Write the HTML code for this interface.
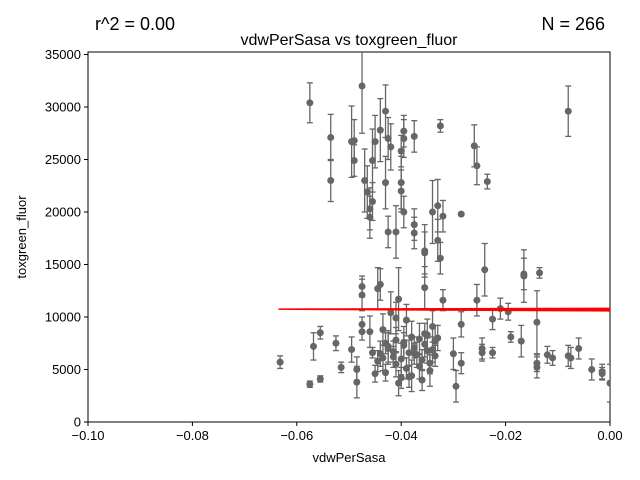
<!DOCTYPE html>
<html><head><meta charset="utf-8"><style>
body{margin:0;background:#fff;}
svg{display:block;font-family:"Liberation Sans","DejaVu Sans",sans-serif;}
</style></head><body>
<svg id="chart" width="640" height="480">
<defs><clipPath id="plotclip"><rect x="88" y="52" width="522" height="370"/></clipPath></defs>
<text x="95" y="30" font-size="18">r^2 = 0.00</text>
<text x="605" y="30" font-size="18" text-anchor="end">N = 266</text>
<text x="349" y="45" font-size="16" text-anchor="middle">vdwPerSasa vs toxgreen_fluor</text>
<text x="349" y="462" font-size="13" text-anchor="middle">vdwPerSasa</text>
<text x="26" y="237" font-size="13" text-anchor="middle" transform="rotate(-90 26 237)">toxgreen_fluor</text>
<g id="axes"></g>
<g id="marks" clip-path="url(#plotclip)"></g>
</svg>
<script>
const xTicks=[-0.1,-0.08,-0.06,-0.04,-0.02,0];
const xTickLabels=["\u22120.10","\u22120.08","\u22120.06","\u22120.04","\u22120.02","0.00"];
const yTicks=[0,5000,10000,15000,20000,25000,30000,35000];
const xs=[-0.0575,-0.0535,-0.0535,-0.0495,-0.049,-0.049,-0.0475,-0.047,-0.0465,-0.046,-0.0455,-0.045,-0.046,-0.0455,-0.044,-0.043,-0.0425,-0.042,-0.043,-0.0425,-0.041,-0.040,-0.0395,-0.0395,-0.040,-0.040,-0.0395,-0.0375,-0.0375,-0.0375,-0.0355,-0.0355,-0.0355,-0.034,-0.033,-0.033,-0.0325,-0.032,-0.032,-0.0325,-0.0285,-0.026,-0.0255,-0.0235,-0.024,-0.0255,-0.0225,-0.021,-0.0195,-0.0165,-0.0165,-0.0135,-0.008,-0.014,
-0.0632,-0.0575,-0.0568,-0.0555,-0.0555,-0.0525,-0.0515,-0.0495,-0.0485,-0.0485,-0.0475,-0.0475,-0.0475,-0.0475,-0.046,-0.0455,-0.045,-0.044,-0.0445,-0.044,-0.0435,-0.043,-0.043,-0.0425,-0.042,-0.0415,-0.041,-0.041,-0.0405,-0.040,-0.040,-0.0395,-0.039,-0.039,-0.0385,-0.038,-0.038,-0.0375,-0.037,-0.0365,-0.036,-0.036,-0.0355,-0.035,-0.035,-0.0345,-0.034,-0.034,-0.0335,-0.0335,-0.033,-0.0445,-0.0435,-0.0425,-0.0415,-0.0405,-0.0395,-0.0385,-0.0365,-0.0355,-0.0345,-0.041,-0.0375,
-0.030,-0.0295,-0.0285,-0.0285,-0.0245,-0.0245,-0.0225,-0.019,-0.017,-0.014,-0.014,-0.012,-0.011,-0.008,-0.0075,-0.006,-0.0035,-0.0015,-0.0015,0.0];
const ys=[30400,27100,23000,26700,26800,24900,32000,23000,21900,19500,24900,26700,20300,21000,27800,29600,27000,26200,22800,18100,18100,25800,27000,27700,22800,22000,20000,27200,18800,18000,16300,16100,12800,20000,20600,17300,15600,19600,11600,28200,19800,26300,24400,22900,14500,11600,9800,10800,10500,13900,14100,14200,29600,9500,
5700,3600,7200,4100,8500,7500,5200,6900,5000,3800,9300,8600,12900,12100,8600,6600,4600,13100,12700,6500,8800,7500,4700,7200,10400,6200,5500,7800,11700,6000,4200,7300,9700,5100,6600,8100,4400,7100,6400,7900,5900,4000,7400,8300,6800,5600,9100,6900,6300,7700,8000,5800,6100,7000,6700,3700,7600,4300,5300,8400,4900,9900,6500,
6500,3400,9300,5600,6600,7000,6600,8100,7700,5600,5200,6400,6100,6300,6100,7000,5000,4800,4600,3700];
const errs=[1900,2200,2000,3400,2000,1500,4500,3000,2500,2000,3000,2500,2000,1800,3000,2500,2000,2200,2500,1500,2500,1500,1800,1500,2500,2000,1500,1500,1500,1500,2500,2000,2000,3000,2500,2000,1500,1500,1000,600,0,2000,1800,700,2500,1500,1000,1000,800,2500,1500,500,2400,3000,
600,300,1300,300,600,700,500,1200,1200,1500,700,800,1000,1500,1500,500,800,1500,2000,1200,1500,1000,800,1500,2000,1000,1200,1200,3000,1500,1000,1200,1500,1000,1200,1500,1500,1000,1200,1500,1000,1000,1200,1500,1200,1000,1500,1200,1000,1500,1200,1000,1200,1500,1000,1200,1500,1000,1200,1000,1500,1500,1000,
1500,1500,1200,1000,800,1000,500,500,1500,800,1000,800,700,1000,1000,1000,1000,700,600,1800];
const fitX=[-0.0635,0];
const fitY=[10750,10700];
const X0=88,X1=610,Y0=422,YTOP=52;
const xS=v=>X0+(v+0.1)/0.1*(X1-X0);
const yS=v=>Y0-v/5000*52.5;
const NS="http://www.w3.org/2000/svg";
function mk(tag,at,parent){const e=document.createElementNS(NS,tag);for(const k in at)e.setAttribute(k,at[k]);parent.appendChild(e);return e;}
const axes=document.getElementById('axes'),marks=document.getElementById('marks');
const frame=mk('rect',{x:X0,y:YTOP,width:X1-X0,height:Y0-YTOP,fill:'none',stroke:'#000','stroke-width':1},axes);


xTicks.forEach((t,i)=>{const x=xS(t);
 const l=mk('line',{x1:x,x2:x,y1:Y0,y2:Y0+4,stroke:'#000'},axes);
 
 
 const tx=mk('text',{x:x,y:Y0+18,'font-size':13,'text-anchor':'middle'},axes);tx.textContent=xTickLabels[i];
 
 });
yTicks.forEach(t=>{const y=yS(t);
 const l=mk('line',{x1:X0-4,x2:X0,y1:y,y2:y,stroke:'#000'},axes);
 
 
 const tx=mk('text',{x:X0-7,y:y+4.5,'font-size':13,'text-anchor':'end'},axes);tx.textContent=t;
 
 });
const n=Math.min(xs.length,ys.length);
for(let i=0;i<n;i++){const x=xS(xs[i]),y=yS(ys[i]),e=errs[i]||0;
 const g=mk('g',{},marks);
 
 
 if(e>0){const ya=yS(ys[i]+e),yb=yS(ys[i]-e);
  mk('line',{x1:x,x2:x,y1:ya,y2:yb,stroke:'#666','stroke-width':1.3},g);
  mk('line',{x1:x-3,x2:x+3,y1:ya,y2:ya,stroke:'#666','stroke-width':1.3},g);
  mk('line',{x1:x-3,x2:x+3,y1:yb,y2:yb,stroke:'#666','stroke-width':1.3},g);}
 mk('circle',{cx:x,cy:y,r:3.5,fill:'#666'},g);}
const fx0=xS(fitX[0]),fx1=xS(fitX[1]),fy0=yS(fitY[0]),fy1=yS(fitY[1]);
const fit=mk('polygon',{points:`${fx0},${fy0-0.8} ${fx1},${fy1-2} ${fx1},${fy1+2} ${fx0},${fy0+0.8}`,fill:'#ff0000'},marks);


</script>
</body></html>
